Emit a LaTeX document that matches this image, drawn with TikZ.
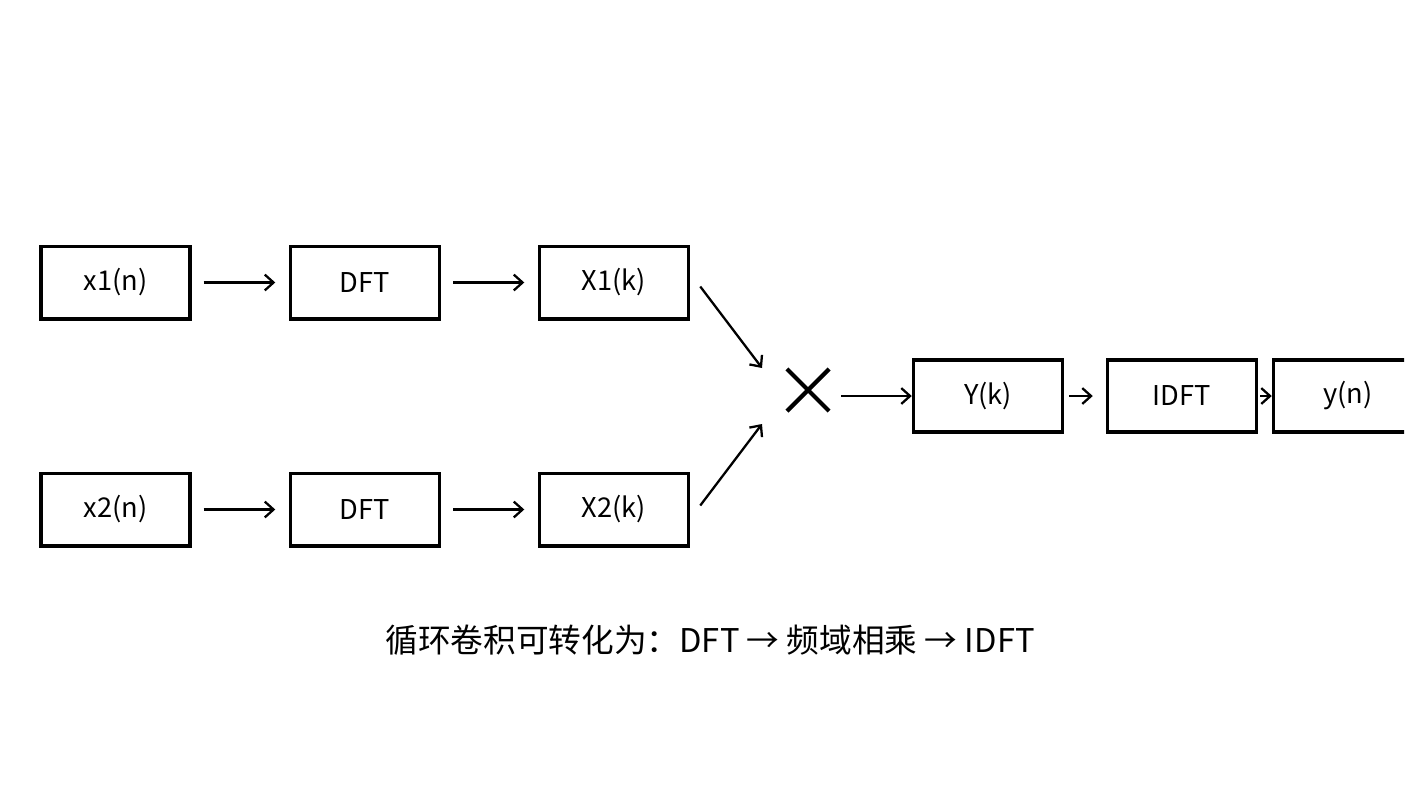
\documentclass[tikz,border=0pt]{standalone}
\usepackage{fontspec}
\setmainfont{Noto Sans CJK SC}
\usetikzlibrary{positioning,arrows.meta,shapes.misc,calc}

\begin{document}
\begin{tikzpicture}[x=0.02cm,y=-0.02cm,
  blk/.style={
   draw,
   line width=2pt,
   minimum width=2.98cm,
   minimum height=1.45cm,
   inner sep=0pt,
   font=\fontsize{15.5}{18}\selectfont
  },
  arr/.style={
    -{Straight Barb[length=5pt,width=9pt]},
    line width=1.3pt
  }]
  \useasboundingbox (0,0) rectangle (1422,792);
  % top branch
  \node[blk] (x1n) at (115.5,282.5) {x1(n)};
  \node[blk] (dft1) at (365,282.5) {DFT};
  \node[blk] (X1k) at (614,282.5) {X1(k)};
  % bottom branch
  \node[blk] (x2n) at (115.5,509.5) {x2(n)};
  \node[blk] (dft2) at (365,509.5) {DFT};
  \node[blk] (X2k) at (614,509.5) {X2(k)};
  % product and inverse
  \node[cross out,draw,line width=2.4pt,minimum size=0.76cm,inner sep=0pt] (mul) at (808,390) {};
  \node[blk] (Yk) at (988,396) {Y(k)};
  \node[blk] (idft) at (1182,396) {IDFT};
  \begin{scope}
    \clip (0,0) rectangle (1404,792);
    \node[blk] (yn) at (1348,396) {y(n)};
  \end{scope}

  \draw[arr,shorten <=0.24cm,shorten >=0.27cm] (x1n) -- (dft1);
  \draw[arr,shorten <=0.24cm,shorten >=0.27cm] (dft1) -- (X1k);
  \draw[arr,shorten <=0.24cm,shorten >=0.27cm] (x2n) -- (dft2);
  \draw[arr,shorten <=0.24cm,shorten >=0.27cm] (dft2) -- (X2k);
  \draw[arr] ($(X1k.east)+(10,4)$) -- ($(mul.center)+(-46,-22)$);
  \draw[arr] ($(X2k.east)+(10,-4)$) -- ($(mul.center)+(-46,34)$);
  \draw[arr,shorten <=0.24cm] (mul.east|-Yk) -- (Yk.west);
  \draw[arr,shorten <=0.1cm,shorten >=0.26cm] (Yk) -- (idft);
  \draw[arr] ($(idft.east)+(2,0)$) -- (yn.west);

  \node[font=\fontsize{18.6}{22}\selectfont] (note) at (710,640) {循环卷积可转化为：DFT → 频域相乘 → IDFT};
\end{tikzpicture}
\end{document}
